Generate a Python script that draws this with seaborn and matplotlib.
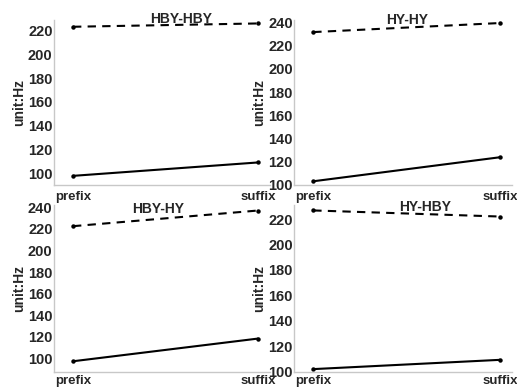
import numpy as np
import pandas as pd
import matplotlib
matplotlib.use('Agg')
import matplotlib.pyplot as plt
import seaborn as sns

# values (Hz)
positions = ['prefix', 'suffix']
titles = ['HBY-HBY', 'HY-HY', 'HBY-HY', 'HY-HBY']
dashed_vals = [[223.4, 226.2], [231.7, 239.5], [222.5, 237.0], [226.8, 222.0]]
solid_vals = [[97.7, 109.0], [103.2, 123.9], [97.5, 118.5], [101.9, 109.2]]
y_ticks = [[100, 120, 140, 160, 180, 200, 220],
           [100, 120, 140, 160, 180, 200, 220, 240],
           [100, 120, 140, 160, 180, 200, 220, 240],
           [100, 120, 140, 160, 180, 200, 220]]

sns.set_style('white')
plt.rcParams['font.family'] = ['Liberation Sans', 'DejaVu Sans']
plt.rcParams['font.weight'] = 'bold'

fig = plt.figure(figsize=(5.17, 3.87), dpi=100)
boxes = [[0.1044, 0.522, 0.418, 0.426],
         [0.5687, 0.522, 0.422, 0.426],
         [0.1044, 0.040, 0.418, 0.430],
         [0.5687, 0.040, 0.422, 0.430]]
ylims = [(90, 229), (100, 242), (88, 242), (100, 231)]
title_pos = [(0.588, 1.006), (0.518, 1.0), (0.48, 0.976), (0.60, 0.988)]
xpads = [4, 4, 2.3, 2.3]

for i in range(4):
    ax = fig.add_axes(boxes[i])
    x = np.arange(len(positions))
    sns.lineplot(x=x, y=dashed_vals[i], ax=ax, color='black', linewidth=1.5,
                 linestyle=(0, (4, 3)), marker='o', markersize=3.2, markeredgewidth=0)
    sns.lineplot(x=x, y=solid_vals[i], ax=ax, color='black', linewidth=1.5,
                 marker='o', markersize=3.2, markeredgewidth=0)
    ax.set_xlim(-0.103, 1.065)
    ax.set_ylim(*ylims[i])
    ax.set_xticks(x)
    ax.set_xticklabels(positions, fontsize=9.5, fontweight='bold')
    ax.set_yticks(y_ticks[i])
    ax.set_yticklabels([str(t) for t in y_ticks[i]], fontsize=10.5, fontweight='bold')
    ax.set_xticks([0.5], minor=True)
    ax.set_yticks(np.arange(110, ylims[i][1], 20), minor=True)
    ax.tick_params(axis='y', which='major', length=0, pad=1)
    ax.tick_params(axis='x', which='major', length=0, pad=xpads[i])
    ax.tick_params(which='minor', length=3, color='#dddddd', direction='in')
    ax.set_ylabel('unit:Hz', fontsize=10, fontweight='bold', labelpad=1)
    ax.set_xlabel('')
    for side in ['top', 'right']:
        ax.spines[side].set_visible(False)
    for side in ['left', 'bottom']:
        ax.spines[side].set_color('#c8c8c8')
        ax.spines[side].set_linewidth(1)
    ax.text(title_pos[i][0], title_pos[i][1], titles[i], transform=ax.transAxes,
            ha='center', va='center', fontsize=10, fontweight='bold')

fig.savefig('out.png', dpi=100)
